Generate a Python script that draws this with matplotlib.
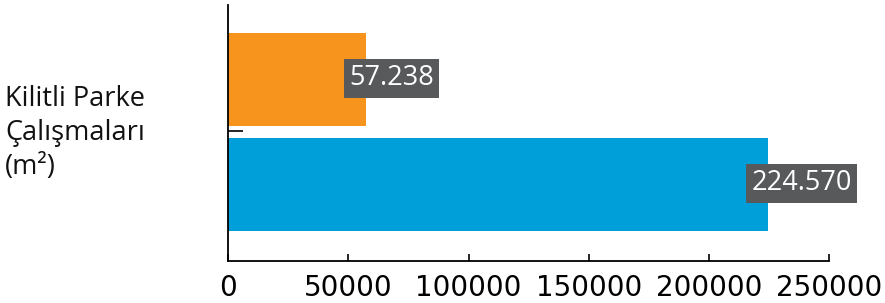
import matplotlib.pyplot as plt

# data
category = "Kilitli Parke\nÇalışmaları\n(m²)"
series_values = [57238, 224570]
value_labels = ["57.238", "224.570"]
bar_colors = ["#F7941D", "#009FDA"]
bar_offsets = [0.2575, -0.2675]
x_ticks = [0, 50000, 100000, 150000, 200000, 250000]

fig = plt.figure(figsize=(8.85, 3.03), dpi=100)
ax = fig.add_axes([228 / 885, 42 / 303, 601.5 / 885, 256 / 303])

for val, off, col, lab in zip(series_values, bar_offsets, bar_colors, value_labels):
    ax.barh(off, val, height=0.465, color=col, edgecolor="none")
    ax.annotate(lab, xy=(val, off), xytext=(-12, 1), textcoords="offset points",
                ha="left", va="center", color="white", fontsize=19.5,
                family="Open Sans",
                bbox=dict(boxstyle="square,pad=0.2", fc="#58595B", ec="none"))

ax.set_xlim(0, 250000)
ax.set_ylim(-0.65, 0.63)
ax.set_xticks(x_ticks)
ax.set_xticklabels([str(t) for t in x_ticks], fontsize=20, family="DejaVu Sans")
ax.set_yticks([0])
ax.set_yticklabels([""])
ax.tick_params(axis="x", direction="in", length=5, width=1.2, pad=9)
ax.tick_params(axis="y", direction="in", length=11, width=1.2)

for s in ["top", "right"]:
    ax.spines[s].set_visible(False)
for s in ["left", "bottom"]:
    ax.spines[s].set_linewidth(1.3)
    ax.spines[s].set_color("black")

fig.text(5 / 885, 1 - 133 / 303, category, ha="left", va="center",
         fontsize=19.5, family="Open Sans", linespacing=1.3, color="#111111")

fig.savefig("out.png", dpi=100)
